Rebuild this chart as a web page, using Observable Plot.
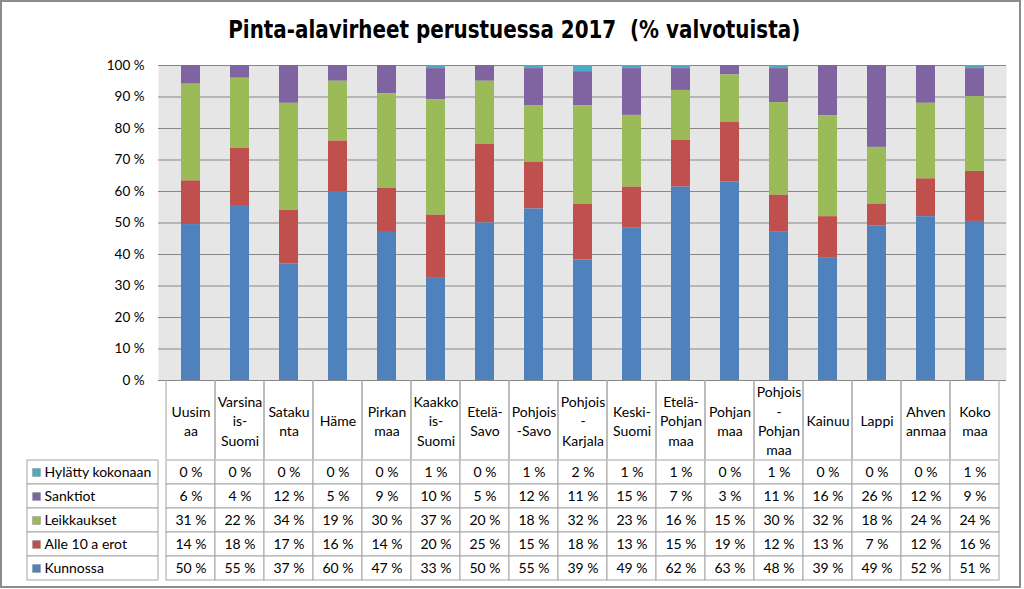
<!DOCTYPE html>
<html><head><meta charset="utf-8">
<script src="https://cdn.jsdelivr.net/npm/d3@7"></script>
<script src="https://cdn.jsdelivr.net/npm/@observablehq/plot@0.6"></script>
<style>
body{margin:0;background:#fff;}
#wrap{position:relative;width:1024px;height:589px;overflow:hidden;background:#fff;font-family:Lato,"Open Sans",sans-serif;}
#frame{position:absolute;left:0;top:0;width:1021px;height:588px;box-sizing:border-box;border:2px solid #8c8c8c;pointer-events:none;}
#title{position:absolute;left:0;width:1028px;top:15px;line-height:30px;text-align:center;color:#000;}
#title span{display:inline-block;font-weight:bold;font-size:24px;font-family:"Liberation Sans Narrow","DejaVu Sans Condensed",sans-serif;white-space:pre;transform-origin:50% 50%;}
.p{position:absolute;left:0;}
</style></head><body>
<div id="wrap">
<div id="title"><span id="ttext">Pinta-alavirheet perustuessa 2017  (% valvotuista)</span></div>
<div class="p" id="bars" style="top:0px"></div>
<div class="p" id="head" style="top:380px"></div>
<div class="p" id="body" style="top:458px"></div>
<div class="p" id="labels" style="top:458px"></div>
<div id="frame"></div>
</div>
<script>
// Categories as they are wrapped in the table header
const categories = ["Uusim\naa", "Varsina\nis-\nSuomi", "Sataku\nnta", "Häme", "Pirkan\nmaa", "Kaakko\nis-\nSuomi", "Etelä-\nSavo", "Pohjois\n-Savo", "Pohjois\n-\nKarjala", "Keski-\nSuomi", "Etelä-\nPohjan\nmaa", "Pohjan\nmaa", "Pohjois\n-\nPohjan\nmaa", "Kainuu", "Lappi", "Ahven\nanmaa", "Koko\nmaa"];
// Series in table order (top to bottom)
const seriesNames = ["Hylätty kokonaan", "Sanktiot", "Leikkaukset", "Alle 10 a erot", "Kunnossa"];
const seriesColors = ["#4bacc6", "#8064a2", "#9bbb59", "#c0504d", "#4f81bd"];
const hylatty     = [0, 0, 0, 0, 0, 1, 0, 1, 2, 1, 1, 0, 1, 0, 0, 0, 1];
const sanktiot    = [6, 4, 12, 5, 9, 10, 5, 12, 11, 15, 7, 3, 11, 16, 26, 12, 9];
const leikkaukset = [31, 22, 34, 19, 30, 37, 20, 18, 32, 23, 16, 15, 30, 32, 18, 24, 24];
const alle10      = [14, 18, 17, 16, 14, 20, 25, 15, 18, 13, 15, 19, 12, 13, 7, 12, 16];
const kunnossa    = [50, 55, 37, 60, 47, 33, 50, 55, 39, 49, 62, 63, 48, 39, 49, 52, 51];
const yTicks = [0, 10, 20, 30, 40, 50, 60, 70, 80, 90, 100];

const seriesValues = [hylatty, sanktiot, leikkaukset, alle10, kunnossa];
const data = [];
categories.forEach((c, i) => seriesNames.forEach((s, j) => data.push({category: c, series: s, value: seriesValues[j][i]})));
const stackOrder = seriesNames.slice().reverse();

// fit title to the reference width
const tt = document.getElementById("ttext");
const tw = tt.getBoundingClientRect().width;
tt.style.transform = `scaleX(${572 / tw})`;

const W = 1024, ML = 158, MR = 18;
const style = {background: "transparent", fontFamily: "Lato, 'Open Sans', sans-serif", fontSize: "13px", color: "#000"};
const color = {domain: seriesNames, range: seriesColors};
const gridColor = "#878787", tableColor = "#a6a6a6";
const fs = 14;

const bars = Plot.plot({
  width: W, height: 390, marginTop: 65, marginBottom: 10, marginLeft: ML, marginRight: MR,
  style,
  x: {domain: categories, padding: 0, axis: null},
  y: {domain: [0, 1], axis: null},
  color,
  marks: [
    Plot.frame({fill: "#e6e6e6", stroke: null}),
    Plot.gridY(yTicks.map(t => t / 100), {stroke: gridColor, strokeOpacity: 1}),
    Plot.axisY(yTicks.map(t => t / 100), {tickSize: 0, tickPadding: 14, tickFormat: d => Math.round(d * 100) + " %", fontSize: 13.5, label: null}),
    Plot.barY(data, Plot.stackY({offset: "normalize", order: stackOrder}, {x: "category", y: "value", fill: "series", z: "series", insetLeft: 15, insetRight: 15}))
  ]
});
document.getElementById("bars").appendChild(bars);

const head = Plot.plot({
  width: W, height: 79, marginTop: 0, marginBottom: 0, marginLeft: ML, marginRight: MR,
  style,
  x: {domain: categories, padding: 0, axis: null},
  marks: [
    Plot.cell(categories, {x: d => d, stroke: tableColor, fill: null, insetTop: -3, insetBottom: -3}),
    Plot.text(categories, {x: d => d, text: d => d, lineHeight: 1.38, fontSize: fs})
  ]
});
document.getElementById("head").appendChild(head);

const body = Plot.plot({
  width: W, height: 123, marginTop: 1, marginBottom: 1, marginLeft: ML, marginRight: MR,
  style,
  x: {domain: categories, padding: 0, axis: null},
  y: {domain: seriesNames, padding: 0, axis: null},
  marks: [
    Plot.cell(data, {x: "category", y: "series", stroke: tableColor, fill: "white"}),
    Plot.text(data, {x: "category", y: "series", text: d => d.value + " %", fontSize: fs})
  ]
});
document.getElementById("body").appendChild(body);

const labels = Plot.plot({
  width: ML + 1, height: 123, marginTop: 1, marginBottom: 1, marginLeft: 27, marginRight: 1,
  style,
  y: {domain: seriesNames, padding: 0, axis: null},
  color,
  marks: [
    Plot.cell(seriesNames, {y: d => d, stroke: tableColor, fill: "white"}),
    Plot.dot(seriesNames, {y: d => d, fill: d => d, symbol: "square", r: 4.4, frameAnchor: "left", dx: 9, stroke: "#7f7f7f", strokeWidth: 0.5}),
    Plot.text(seriesNames, {y: d => d, text: d => d, frameAnchor: "left", textAnchor: "start", dx: 17, fontSize: fs})
  ]
});
document.getElementById("labels").appendChild(labels);
</script>
</body></html>
